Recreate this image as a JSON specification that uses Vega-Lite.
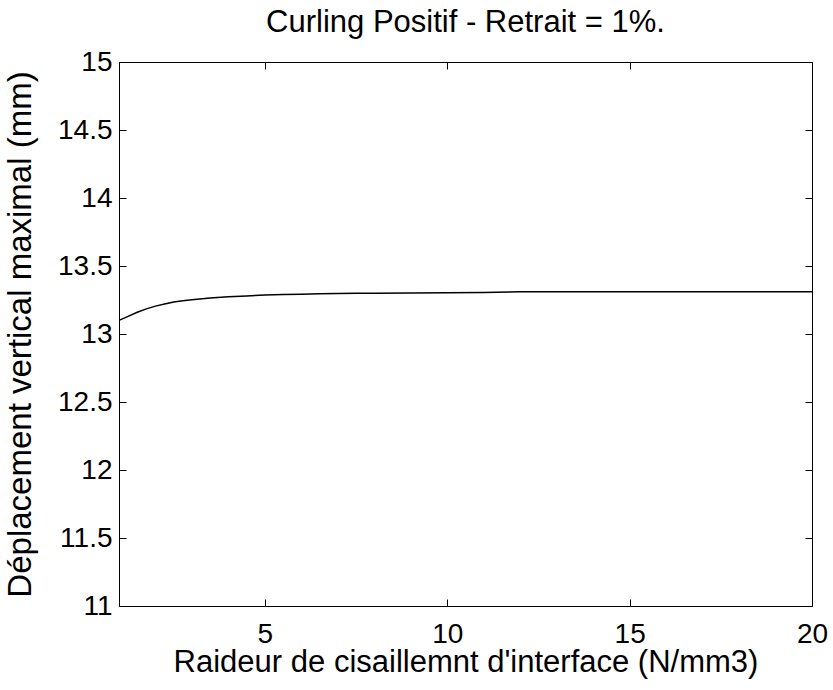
{
  "$schema": "https://vega.github.io/schema/vega-lite/v6.json",
  "width": 693,
  "height": 544,
  "autosize": "none",
  "padding": {"left": 119, "top": 62, "right": 21, "bottom": 84},
  "background": "white",
  "title": {
    "text": "Curling Positif - Retrait = 1%.",
    "font": "Liberation Sans",
    "fontSize": 31,
    "fontWeight": "normal",
    "color": "black",
    "anchor": "middle",
    "baseline": "bottom",
    "offset": -22
  },
  "config": {
    "view": {"stroke": "black", "strokeWidth": 1},
    "axis": {
      "domain": false,
      "grid": false,
      "labelFlush": false,
      "tickColor": "black",
      "tickSize": -7,
      "tickWidth": 1,
      "labelFont": "Liberation Sans",
      "labelFontSize": 28,
      "labelColor": "black",
      "titleFont": "Liberation Sans",
      "titleFontSize": 31,
      "titleFontWeight": "normal",
      "titleColor": "black"
    }
  },
  "data": {
    "values": [
      {"k": 1, "d": 13.10},
      {"k": 1.25, "d": 13.13},
      {"k": 1.5, "d": 13.16},
      {"k": 1.75, "d": 13.185},
      {"k": 2, "d": 13.205},
      {"k": 2.25, "d": 13.22},
      {"k": 2.5, "d": 13.235},
      {"k": 2.75, "d": 13.245},
      {"k": 3, "d": 13.252},
      {"k": 3.5, "d": 13.265},
      {"k": 4, "d": 13.274},
      {"k": 4.5, "d": 13.28},
      {"k": 5, "d": 13.286},
      {"k": 5.5, "d": 13.29},
      {"k": 6, "d": 13.293},
      {"k": 6.5, "d": 13.296},
      {"k": 7, "d": 13.298},
      {"k": 7.5, "d": 13.30},
      {"k": 8, "d": 13.30},
      {"k": 9, "d": 13.302},
      {"k": 10, "d": 13.303},
      {"k": 11, "d": 13.305},
      {"k": 12, "d": 13.31},
      {"k": 13, "d": 13.31},
      {"k": 14, "d": 13.31},
      {"k": 15, "d": 13.31},
      {"k": 16, "d": 13.31},
      {"k": 17, "d": 13.31},
      {"k": 18, "d": 13.31},
      {"k": 19, "d": 13.31},
      {"k": 20, "d": 13.31}
    ]
  },
  "layer": [
    {
      "mark": {"type": "line", "color": "black", "strokeWidth": 1.5},
      "encoding": {
        "x": {
          "field": "k",
          "type": "quantitative",
          "scale": {"domain": [1, 20], "nice": false, "zero": false},
          "axis": {
            "orient": "bottom",
            "values": [5, 10, 15, 20],
            "format": "~g",
            "labelPadding": 21,
            "title": "Raideur de cisaillemnt d'interface (N/mm3)",
            "titleFontSize": 31,
            "titlePadding": -1
          }
        },
        "y": {
          "field": "d",
          "type": "quantitative",
          "scale": {"domain": [11, 15], "nice": false, "zero": false},
          "axis": {
            "orient": "left",
            "values": [11, 11.5, 12, 12.5, 13, 13.5, 14, 14.5, 15],
            "format": ".3~g",
            "labelPadding": 14,
            "title": "Déplacement vertical maximal (mm)",
            "titleFontSize": 33,
            "titlePadding": 20
          }
        }
      }
    },
    {
      "mark": {"type": "line", "opacity": 0},
      "encoding": {
        "x": {
          "field": "k",
          "type": "quantitative",
          "scale": {"domain": [1, 20], "nice": false, "zero": false},
          "axis": {"orient": "top", "values": [5, 10, 15, 20], "labels": false, "title": null}
        },
        "y": {
          "field": "d",
          "type": "quantitative",
          "scale": {"domain": [11, 15], "nice": false, "zero": false},
          "axis": {"orient": "right", "values": [11, 11.5, 12, 12.5, 13, 13.5, 14, 14.5, 15], "labels": false, "title": null}
        }
      }
    }
  ],
  "resolve": {"axis": {"x": "independent", "y": "independent"}}
}
